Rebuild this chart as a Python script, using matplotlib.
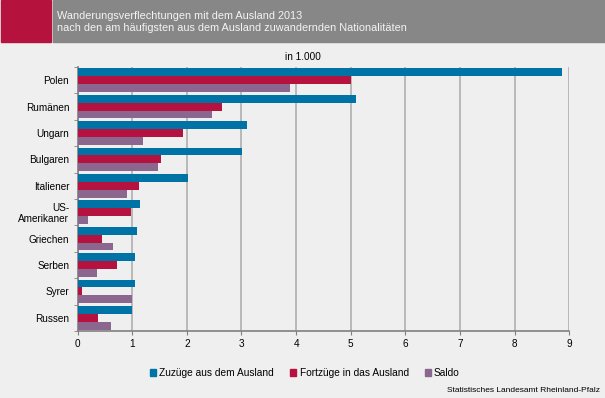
import numpy as np
import matplotlib.pyplot as plt
from matplotlib.patches import Rectangle

## Data (in 1.000)
laender = ['Polen', 'Rumänen', 'Ungarn', 'Bulgaren', 'Italiener',
           'US-\nAmerikaner', 'Griechen', 'Serben', 'Syrer', 'Russen']
zuzuege = [8.87, 5.10, 3.11, 3.01, 2.03, 1.15, 1.09, 1.05, 1.05, 0.99]
fortzuege = [5.01, 2.65, 1.93, 1.52, 1.13, 0.97, 0.44, 0.72, 0.09, 0.37]
saldo = [3.89, 2.46, 1.20, 1.48, 0.90, 0.20, 0.65, 0.35, 0.99, 0.62]

plt.rcParams['font.family'] = ['Liberation Sans', 'DejaVu Sans']

bg = '#EEEFEE'
blau = '#0073A6'
rot = '#B5123F'
lila = '#8B6790'

W, H = 605, 398
fig = plt.figure(figsize=(W / 100, H / 100), dpi=100, facecolor=bg)

# header band (red square, thin gap, grey band)
fig.patches.append(Rectangle((53 / W, 1 - 42 / H), 1, 42 / H, transform=fig.transFigure,
                             color='#878787', zorder=0))
fig.patches.append(Rectangle((1 / W, 1 - 42 / H), 50 / W, 42 / H, transform=fig.transFigure,
                             color='#B5123D', zorder=1))
fig.text(57 / W, 1 - 16 / H, 'Wanderungsverflechtungen mit dem Ausland 2013',
         color='#F4F4F4', fontsize=7.8, va='center')
fig.text(57 / W, 1 - 28 / H, 'nach den am häufigsten aus dem Ausland zuwandernden Nationalitäten',
         color='#F4F4F4', fontsize=7.8, va='center')

# plot area
left, right, top, bottom = 77.5, 569.3, 67, 331
ax = fig.add_axes([left / W, 1 - bottom / H, (right - left) / W, (bottom - top) / H])
ax.set_facecolor(bg)

y = np.arange(len(laender))
h = 0.3
ax.barh(y - h, zuzuege, height=h, color=blau, zorder=3)
ax.barh(y, fortzuege, height=h, color=rot, zorder=3)
ax.barh(y + h, saldo, height=h, color=lila, zorder=3)

ax.set_ylim(len(laender) - 0.5, -0.5)
ax.set_xlim(0, 9)
ax.set_xticks(range(10))
ax.set_yticks(y)
ax.set_yticklabels(laender, fontsize=7.2, linespacing=1.1)
ax.tick_params(axis='x', labelsize=7.2, length=3, color='#808080', pad=3)
ax.tick_params(axis='y', length=0, pad=6)
# ticks between categories on the y axis
ax.set_yticks(np.arange(-0.5, len(laender)), minor=True)
ax.tick_params(axis='y', which='minor', length=3, color='#808080')

ax.grid(axis='x', color='#B4B4B4', linewidth=1.3, zorder=0)
for s in ['top', 'right']:
    ax.spines[s].set_visible(False)
for s in ['left', 'bottom']:
    ax.spines[s].set_color('#808080')
    ax.spines[s].set_linewidth(1.2)

fig.text(303 / W, 1 - 57 / H, 'in 1.000', fontsize=7.2, ha='center', va='center')

# legend
handles = [Rectangle((0, 0), 1, 1, color=c) for c in (blau, rot, lila)]
fig.legend(handles, ['Zuzüge aus dem Ausland', 'Fortzüge in das Ausland', 'Saldo'],
           loc='center', bbox_to_anchor=(305 / W, 1 - 373 / H), ncol=3, frameon=False,
           fontsize=7.3, handlelength=0.6, handleheight=0.6, handletextpad=0.3,
           columnspacing=1.6)

fig.text(600 / W, 1 - 390 / H, 'Statistisches Landesamt Rheinland-Pfalz',
         fontsize=6, ha='right', va='center')

fig.savefig('out.png', dpi=100, facecolor=bg)
